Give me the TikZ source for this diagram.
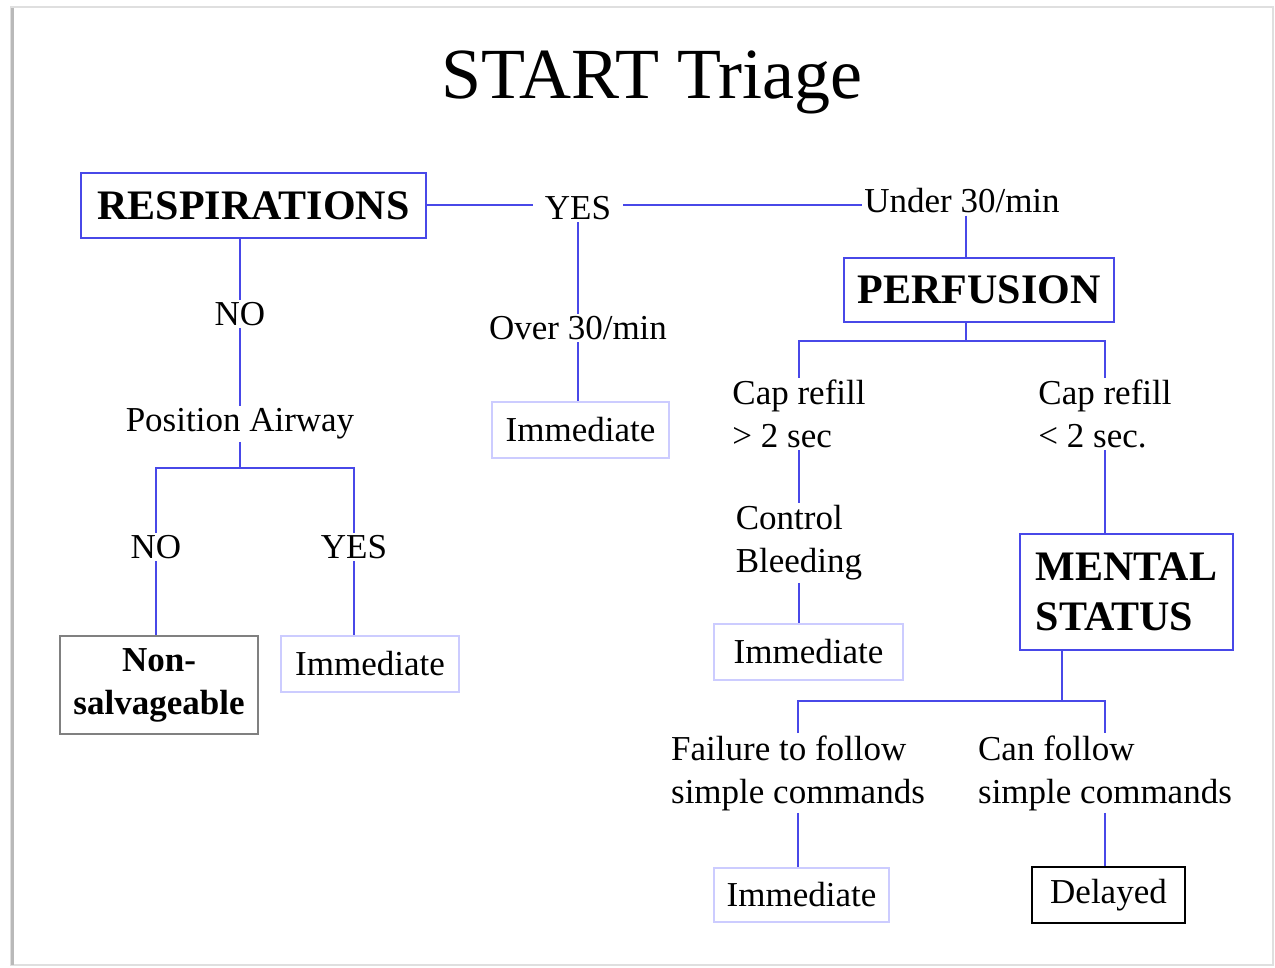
\documentclass[tikz,border=0pt]{standalone}
\usepackage{fontspec}
\setmainfont{Liberation Serif}
\definecolor{lineblue}{RGB}{72,72,232}
\definecolor{paleblue}{RGB}{204,204,255}
\begin{document}
\begin{tikzpicture}[x=0.5pt, y=-0.5pt,
    txt/.style={font=\fontsize{17.5}{21.5}\selectfont, inner sep=1pt, align=left},
    head/.style={draw=lineblue, line width=1pt, font=\fontsize{21}{25}\selectfont\bfseries, inner sep=0pt, align=left},
    outcome/.style={draw=paleblue, line width=1pt, font=\fontsize{17.5}{21.5}\selectfont, inner sep=0pt},
    link/.style={lineblue, line width=1pt}]
    \useasboundingbox (0,0) rectangle (1275,968);
    \draw[gray!25, line width=1pt] (11,7) rectangle (1273,965);
    \draw[gray!55, line width=1.5pt] (12,8) -- (12,965);

    \node (title) at (652,82) {\fontsize{36}{43}\selectfont START Triage};

    % respirations branch
    \node[head, minimum width=172.5pt, minimum height=32.5pt] (resp) at (253.5,205.5) {RESPIRATIONS};
    \node[txt, inner xsep=6pt] (yes1) at (578,208) {YES};
    \node[txt] (under) at (962,201) {Under 30/min};
    \node[txt] (over) at (578,328) {Over 30/min};
    \node[outcome, minimum width=88.5pt, minimum height=28pt] (imm1) at (580.5,430) {Immediate};

    \node[txt] (no1) at (240,314) {NO};
    \node[txt] (pos) at (240,424) {Position Airway};
    \node[txt] (no2) at (156,547) {NO};
    \node[txt] (yes2) at (354,547) {YES};
    \node[draw=gray, line width=1pt, font=\fontsize{17.5}{21.5}\selectfont\bfseries, align=center,
          inner sep=0pt, minimum width=99pt, minimum height=49pt] (nonsal) at (159,685) {Non-\\salvageable};
    \node[outcome, minimum width=89pt, minimum height=28pt] (imm2) at (370,664) {Immediate};
    \coordinate (posj) at (240,468);

    % perfusion branch
    \node[head, minimum width=135pt, minimum height=32pt] (perf) at (979,290) {PERFUSION};
    \coordinate (pj) at (966,341);
    \node[txt] (capA) at (799,414) {Cap refill\\> 2 sec};
    \node[txt] (capB) at (1105,414) {Cap refill\\< 2 sec.};
    \node[txt] (ctrl) at (799,543) {Control\\Bleeding};
    \node[outcome, minimum width=94.5pt, minimum height=28pt] (imm3) at (808.5,652) {Immediate};

    % mental status branch
    \node[head, inner xsep=8pt, minimum height=58pt] (mental) at (1126.5,592) {MENTAL\\STATUS};
    \coordinate (mj) at (1062,701);
    \node[txt] (fail) at (798,773) {Failure to follow\\simple commands};
    \node[txt] (can) at (1105,773) {Can follow\\simple commands};
    \node[outcome, minimum width=87.5pt, minimum height=27pt] (imm4) at (801.5,895) {Immediate};
    \node[draw=black, line width=1pt, font=\fontsize{17.5}{21.5}\selectfont, inner sep=0pt,
          minimum width=76.5pt, minimum height=28pt] (delayed) at (1108.5,895) {Delayed};

    % connectors
    \draw[link] (resp.east) -- (resp.east -| yes1.west);
    \draw[link] (yes1.east |- resp.east) -- (under.west |- resp.east);
    \draw[link] (yes1.south) -- (over.north);
    \draw[link] (over.south) -- (imm1.north -| over.south);
    \draw[link] (no1.north |- resp.south) -- (no1.north);
    \draw[link] (no1.south) -- (pos.north);
    \draw[link] (pos.south) -- (posj);
    \draw[link] (no2.north) |- (posj) -| (yes2.north);
    \draw[link] (no2.south) -- (no2.south |- nonsal.north);
    \draw[link] (yes2.south) -- (yes2.south |- imm2.north);

    \draw[link] (pj |- under.south) -- (pj |- perf.north);
    \draw[link] (pj |- perf.south) -- (pj);
    \draw[link] (capA.north) |- (pj) -| (capB.north);
    \draw[link] (capA.south) -- (ctrl.north -| capA.south);
    \draw[link] (ctrl.south) -- (ctrl.south |- imm3.north);
    \draw[link] (capB.south) -- (capB.south |- mental.north);

    \draw[link] (mj |- mental.south) -- (mj);
    \draw[link] (fail.north) |- (mj) -| (can.north);
    \draw[link] (fail.south) -- (fail.south |- imm4.north);
    \draw[link] (can.south) -- (can.south |- delayed.north);
\end{tikzpicture}
\end{document}
